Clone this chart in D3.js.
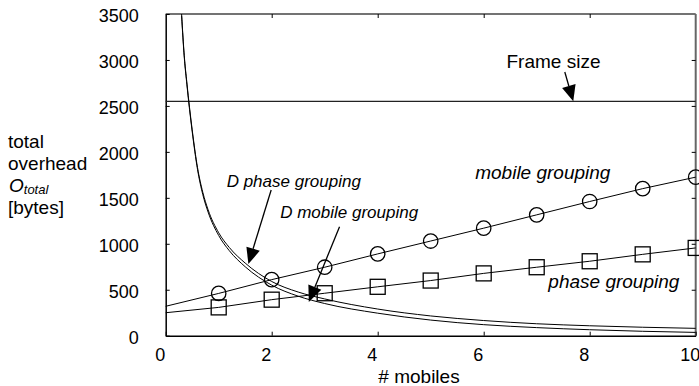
<!DOCTYPE html>
<html><head><meta charset="utf-8">
<script src="https://cdn.jsdelivr.net/npm/d3@7"></script>
<style>body{margin:0;background:#fff}svg{display:block}text{font-family:"Liberation Sans",Arial,sans-serif;fill:#000}</style>
</head><body>
<script>
// ---- data ----
const mobiles = [0,1,2,3,4,5,6,7,8,9,10];
const mobileGrouping = [320,460,610,745,890,1030,1170,1315,1460,1600,1725];
const phaseGrouping  = [250,308,392,462,532,600,678,745,810,885,955];
const dX = [0.30,0.35,0.40,0.45,0.50,0.60,0.70,0.80,1.0,1.2,1.5,2.0,2.5,3.0,4.0,5.0,6.0,7.0,8.0,9.0,10];
const dPhaseGrouping  = [3500,3050,2750,2480,2240,1830,1560,1370,1120,960,790,590,475,400,290,215,165,130,108,92,80];
const dMobileGrouping = [3480,3030,2730,2460,2220,1810,1535,1345,1090,925,750,550,430,350,245,170,120,88,65,48,36];
const frameSize = 2550;
const xTicks = [0,2,4,6,8,10];
const yTicks = [0,500,1000,1500,2000,2500,3000,3500];
const labels = [
  {text:"Frame size", x:6.43, y:2909, italic:false, size:19},
  {text:"mobile grouping", x:5.84, y:1702, italic:true, size:19},
  {text:"phase grouping", x:7.22, y:516, italic:true, size:19},
  {text:"D phase grouping", x:1.15, y:1621, italic:true, size:17},
  {text:"D mobile grouping", x:2.16, y:1284, italic:true, size:17}
];
const arrows = [
  {x1:7.53, y1:2869, x2:7.69, y2:frameSize},
  {x1:1.99, y1:1585, x2:1.56, y2:780},
  {x1:3.28, y1:1186, x2:2.70, y2:367}
];

// ---- chart ----
const W=699,H=386;
const L=165.7,R=695.7,T=14,B=335.7;
const svg=d3.select("body").append("svg").attr("width",W).attr("height",H);
const x=d3.scaleLinear().domain([0,10]).range([L,R]);
const y=d3.scaleLinear().domain([0,3500]).range([B,T]);

// frame
svg.append("line").attr("x1",L).attr("x2",R).attr("y1",T).attr("y2",T).attr("stroke","#444").attr("stroke-width",1.5);
svg.append("line").attr("x1",R).attr("x2",R).attr("y1",T).attr("y2",B).attr("stroke","#666").attr("stroke-width",2);

// axes
const gB=svg.append("g").attr("transform",`translate(0,${B})`)
  .call(d3.axisBottom(x).tickValues(xTicks).tickSizeInner(-4).tickSizeOuter(0).tickFormat(d3.format("d")));
gB.selectAll("text").attr("dx",-6).attr("y",13).attr("font-size",18).attr("font-family","Liberation Sans, Arial, sans-serif");
const gL=svg.append("g").attr("transform",`translate(${L},0)`)
  .call(d3.axisLeft(y).tickValues(yTicks).tickSizeInner(-4).tickSizeOuter(0).tickFormat(d3.format("d")));
gL.selectAll("text").attr("x",-27).attr("dy","0.42em").attr("font-size",18).attr("font-family","Liberation Sans, Arial, sans-serif");
const gT=svg.append("g").attr("transform",`translate(0,${T})`)
  .call(d3.axisTop(x).tickValues(xTicks.slice(1,-1)).tickSizeInner(-4).tickSizeOuter(0).tickFormat(""));
const gR=svg.append("g").attr("transform",`translate(${R},0)`)
  .call(d3.axisRight(y).tickValues(yTicks.slice(1,-1)).tickSizeInner(-4).tickSizeOuter(0).tickFormat(""));
gT.select(".domain").remove(); gR.select(".domain").remove();
[gB,gL].forEach(g=>g.select(".domain").attr("stroke","#000").attr("stroke-width",1.5));
[gB,gL,gT,gR].forEach(g=>g.selectAll(".tick line").attr("stroke","#000"));

// frame size line
svg.append("line").attr("x1",x(0)).attr("x2",x(10)).attr("y1",y(frameSize)).attr("y2",y(frameSize)).attr("stroke","#222").attr("stroke-width",1.2);

// series lines
const line=d3.line().x((d,i)=>x(mobiles[i])).y(d=>y(d));
svg.append("path").attr("d",line(mobileGrouping)).attr("fill","none").attr("stroke","#000").attr("stroke-width",1);
svg.append("path").attr("d",line(phaseGrouping)).attr("fill","none").attr("stroke","#000").attr("stroke-width",1);

const dline=d3.line().x((d,i)=>x(dX[i])).y(d=>y(d)).curve(d3.curveMonotoneX);
svg.append("path").attr("d",dline(dPhaseGrouping)).attr("fill","none").attr("stroke","#000").attr("stroke-width",1);
svg.append("path").attr("d",dline(dMobileGrouping)).attr("fill","none").attr("stroke","#000").attr("stroke-width",1);

// markers
svg.selectAll("circle.m").data(mobileGrouping.slice(1)).enter().append("circle")
  .attr("cx",(d,i)=>x(mobiles[i+1])).attr("cy",d=>y(d)).attr("r",7.2)
  .attr("fill","none").attr("stroke","#000").attr("stroke-width",1.3);
const s=15;
svg.selectAll("rect.m").data(phaseGrouping.slice(1)).enter().append("rect")
  .attr("x",(d,i)=>x(mobiles[i+1])-s/2).attr("y",d=>y(d)-s/2).attr("width",s).attr("height",s)
  .attr("fill","none").attr("stroke","#000").attr("stroke-width",1.3);

// arrows
arrows.forEach(a=>{
  const X1=x(a.x1),Y1=y(a.y1),X2=x(a.x2),Y2=y(a.y2);
  const dx=X2-X1,dy=Y2-Y1,len=Math.hypot(dx,dy),ux=dx/len,uy=dy/len;
  const hl=16,hw=7;
  const bx=X2-ux*hl,by=Y2-uy*hl;
  svg.append("line").attr("x1",X1).attr("y1",Y1).attr("x2",bx).attr("y2",by).attr("stroke","#000").attr("stroke-width",1.3);
  svg.append("path").attr("d",`M${X2},${Y2}L${bx-uy*hw},${by+ux*hw}L${bx+uy*hw},${by-ux*hw}Z`).attr("fill","#000");
});

// labels
labels.forEach(l=>{
  svg.append("text").attr("x",x(l.x)).attr("y",y(l.y)).attr("font-size",l.size)
    .attr("font-style",l.italic?"italic":"normal").text(l.text);
});

// axis titles
svg.append("text").attr("x",419).attr("y",383).attr("text-anchor","middle").attr("font-size",19).text("# mobiles");
const yt=svg.append("g").attr("font-size",19);
yt.append("text").attr("x",8).attr("y",148).text("total");
yt.append("text").attr("x",8).attr("y",170).text("overhead");
const ot=yt.append("text").attr("x",9).attr("y",192);
ot.append("tspan").attr("font-style","italic").text("O");
ot.append("tspan").attr("font-style","italic").attr("font-size",13).attr("dy",1.5).text("total");
yt.append("text").attr("x",8).attr("y",214).text("[bytes]");
</script>
</body></html>
